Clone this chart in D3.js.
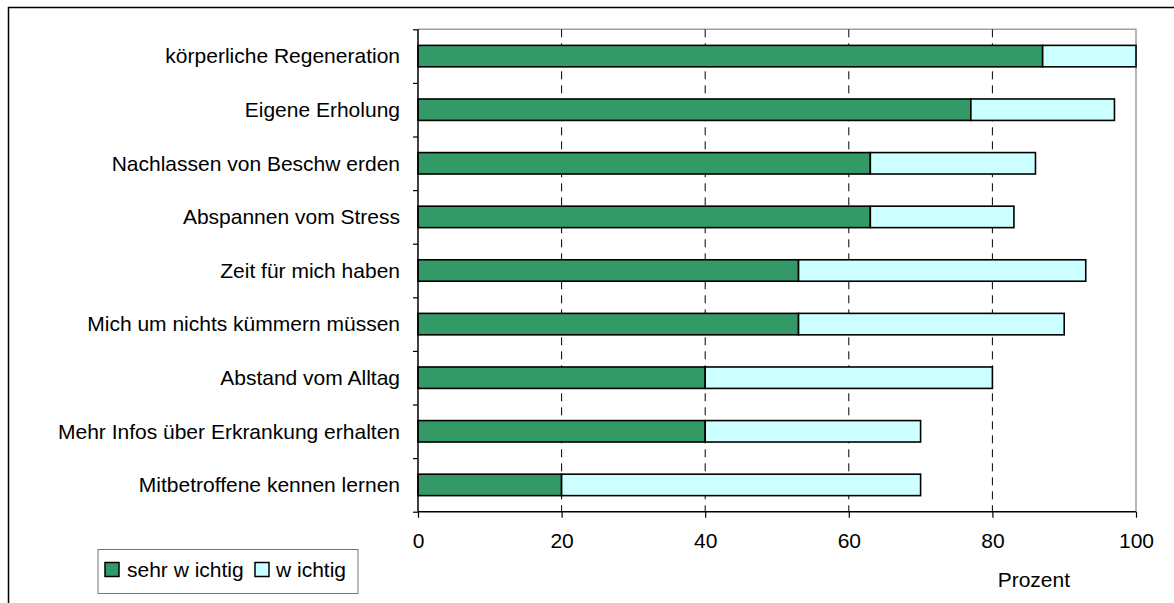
<!DOCTYPE html>
<html>
<head>
<meta charset="utf-8">
<script src="https://cdn.jsdelivr.net/npm/d3@7"></script>
<style>
  body { margin: 0; background: #fff; }
  svg text { font-family: "Liberation Sans", Arial, sans-serif; fill: #000; }
</style>
</head>
<body>
<div id="chart"></div>
<script>
// data (top to bottom)
const categories = [
  "körperliche Regeneration",
  "Eigene Erholung",
  "Nachlassen von Beschw erden",
  "Abspannen vom Stress",
  "Zeit für mich haben",
  "Mich um nichts kümmern müssen",
  "Abstand vom Alltag",
  "Mehr Infos über Erkrankung erhalten",
  "Mitbetroffene kennen lernen"
];
const sehrWichtig = [87, 77, 63, 63, 53, 53, 40, 40, 20];
const wichtig     = [13, 20, 23, 20, 40, 37, 40, 30, 50];
const seriesNames = ["sehr w ichtig", "w ichtig"];
const seriesColors = ["#339966", "#CCFFFF"];
const xTicks = [0, 20, 40, 60, 80, 100];

const width = 1174, height = 603;
const plot = { left: 418, top: 29.3, right: 1136, bottom: 511.7 };

const svg = d3.select("#chart").append("svg")
  .attr("width", width)
  .attr("height", height);

// outer chart border (runs off the right and bottom edge)
svg.append("rect")
  .attr("x", 8.5).attr("y", 7.5)
  .attr("width", 1200).attr("height", 700)
  .attr("fill", "none")
  .attr("stroke", "#000")
  .attr("stroke-width", 1.5);

const x = d3.scaleLinear()
  .domain([0, 100])
  .range([plot.left, plot.right]);

const y = d3.scaleBand()
  .domain(categories)
  .range([plot.top, plot.bottom])
  .paddingInner(0.6)
  .paddingOuter(0.3);

// index scale for the category boundary ticks
const yIdx = d3.scaleLinear()
  .domain([0, categories.length])
  .range([plot.top, plot.bottom]);

// plot area frame (top + right, gray)
svg.append("path")
  .attr("d", `M${plot.left},${plot.top}H${plot.right}V${plot.bottom}`)
  .attr("fill", "none")
  .attr("stroke", "#a0a0a0")
  .attr("stroke-width", 1.5);

// dashed gridlines
svg.append("g")
  .selectAll("line")
  .data(xTicks.filter(t => t > 0 && t < 100))
  .join("line")
  .attr("x1", d => x(d)).attr("x2", d => x(d))
  .attr("y1", plot.top).attr("y2", plot.bottom)
  .attr("stroke", "#000")
  .attr("stroke-width", 1)
  .attr("stroke-dasharray", "8,6");

// stacked bars
const stackData = categories.map((c, i) => ({ cat: c, a: sehrWichtig[i], b: wichtig[i] }));

const barG = svg.append("g");
stackData.forEach(d => {
  const segs = [
    { x0: 0, x1: d.a, color: seriesColors[0] },
    { x0: d.a, x1: d.a + d.b, color: seriesColors[1] }
  ];
  barG.selectAll(null)
    .data(segs)
    .enter()
    .append("rect")
    .attr("x", s => x(s.x0))
    .attr("y", y(d.cat))
    .attr("width", s => x(s.x1) - x(s.x0))
    .attr("height", y.bandwidth())
    .attr("fill", s => s.color)
    .attr("stroke", "#000")
    .attr("stroke-width", 1.6);
});

// y axis: line + boundary ticks
svg.append("g")
  .attr("transform", `translate(${plot.left},0)`)
  .call(d3.axisLeft(yIdx).tickValues(d3.range(categories.length + 1)).tickSize(5).tickFormat(""))
  .call(g => g.select(".domain").attr("stroke", "#000").attr("stroke-width", 1.5).attr("d", `M0,${plot.top}V${plot.bottom}`))
  .call(g => g.selectAll(".tick line").attr("stroke", "#000").attr("stroke-width", 1.2));

// category labels
svg.append("g")
  .selectAll("text")
  .data(categories)
  .join("text")
  .attr("x", 400)
  .attr("y", d => y(d) + y.bandwidth() / 2)
  .attr("dy", "0.35em")
  .attr("text-anchor", "end")
  .attr("font-size", 21)
  .text(d => d);

// x axis
svg.append("g")
  .attr("transform", `translate(0,${plot.bottom})`)
  .call(d3.axisBottom(x).tickValues(xTicks).tickSize(6).tickPadding(15).tickFormat(d3.format("d")))
  .call(g => g.select(".domain").attr("stroke", "#000").attr("stroke-width", 1.5).attr("d", `M${plot.left},0H${plot.right}`))
  .call(g => g.selectAll(".tick line").attr("stroke", "#000").attr("stroke-width", 1.2))
  .call(g => g.selectAll(".tick text")
    .attr("font-size", 21)
    .attr("font-family", "'Liberation Sans', Arial, sans-serif")
    .attr("fill", "#000"));

// axis title
svg.append("text")
  .attr("x", 1070)
  .attr("y", 587)
  .attr("text-anchor", "end")
  .attr("font-size", 21)
  .text("Prozent");

// legend
const legend = svg.append("g");
legend.append("rect")
  .attr("x", 98).attr("y", 549.5)
  .attr("width", 260).attr("height", 44)
  .attr("fill", "#fff")
  .attr("stroke", "#777")
  .attr("stroke-width", 1);

const legendItems = [
  { name: seriesNames[0], color: seriesColors[0], sx: 105, tx: 127 },
  { name: seriesNames[1], color: seriesColors[1], sx: 255, tx: 276 }
];
legendItems.forEach(it => {
  legend.append("rect")
    .attr("x", it.sx).attr("y", 562.5)
    .attr("width", 14).attr("height", 14)
    .attr("fill", it.color)
    .attr("stroke", "#000")
    .attr("stroke-width", 1.5);
  legend.append("text")
    .attr("x", it.tx)
    .attr("y", 577)
    .attr("font-size", 21)
    .text(it.name);
});
</script>
</body>
</html>
